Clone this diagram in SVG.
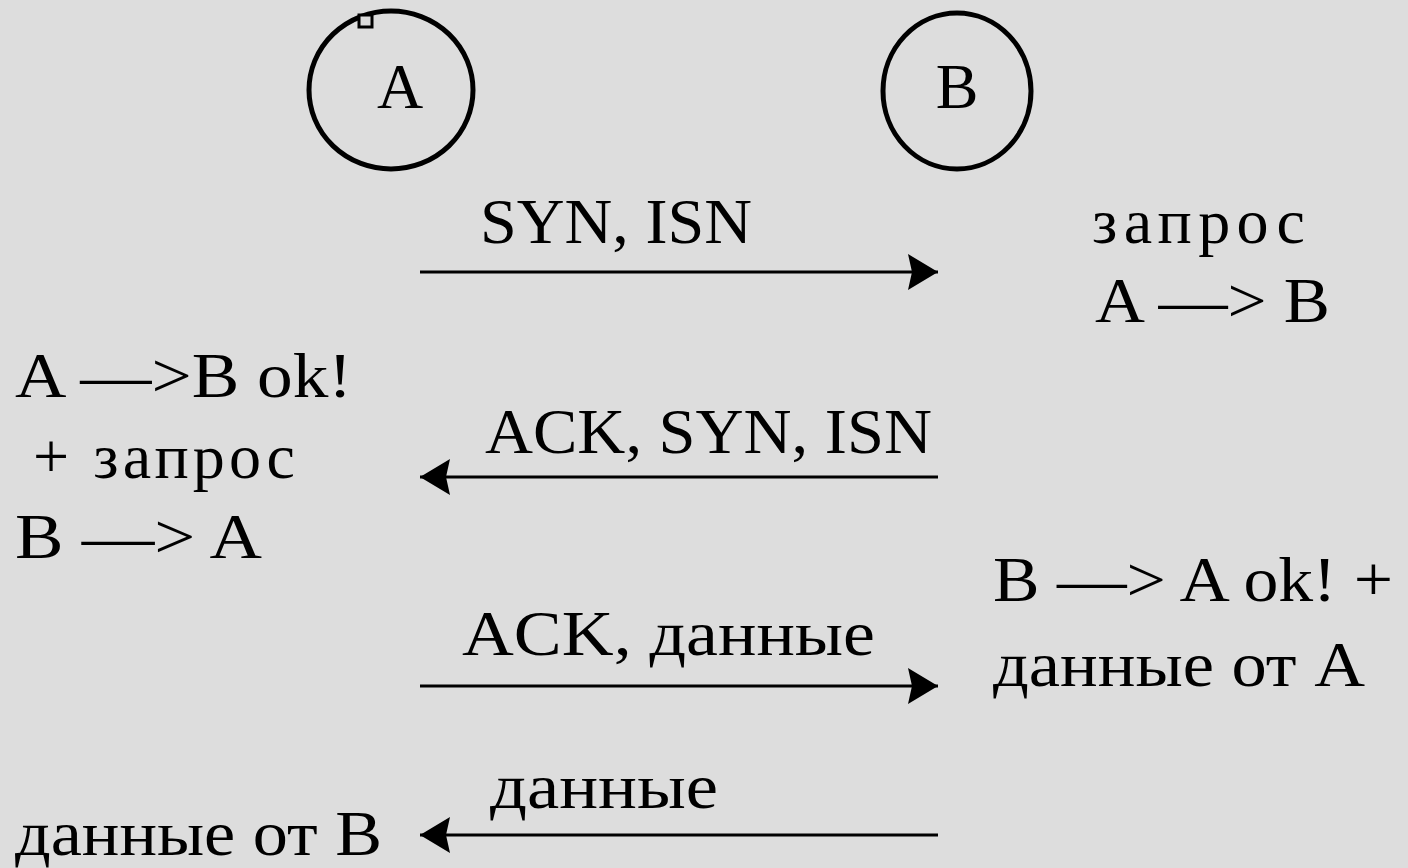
<svg xmlns="http://www.w3.org/2000/svg" width="1408" height="868" viewBox="0 0 1408 868">
<style>
.t{font-family:"Liberation Serif","Times New Roman",serif;font-size:64px;fill:#000}
.c{fill:none;stroke:#000;stroke-width:5}
.l{stroke:#000;stroke-width:3;fill:none}
</style>
<defs>
<marker id="ah" viewBox="0 0 30 36" refX="30" refY="18" markerWidth="30" markerHeight="36" markerUnits="userSpaceOnUse" orient="auto">
<path d="M0,0 L30,18 L0,36 L4,18 Z" fill="#000"/>
</marker>
</defs>
<rect width="1408" height="868" fill="#dddddd"/>
<g id="nodeA">
<ellipse class="c" cx="391" cy="90" rx="82" ry="79"/>
<rect x="359" y="15" width="13" height="12" fill="#dddddd" stroke="#000" stroke-width="3"/>
<text class="t" x="400" y="108" text-anchor="middle">A</text>
</g>
<g id="nodeB">
<ellipse class="c" cx="957" cy="91" rx="74" ry="78"/>
<text class="t" x="957" y="108" text-anchor="middle">B</text>
</g>
<g id="connectors">
<line class="l" x1="420" y1="272" x2="938" y2="272" marker-end="url(#ah)"/>
<line class="l" x1="938" y1="477" x2="420" y2="477" marker-end="url(#ah)"/>
<line class="l" x1="420" y1="686" x2="938" y2="686" marker-end="url(#ah)"/>
<line class="l" x1="938" y1="835" x2="420" y2="835" marker-end="url(#ah)"/>
</g>
<g id="labels">
<text class="t" x="480" y="243" textLength="272" lengthAdjust="spacingAndGlyphs">SYN, ISN</text>
<text class="t" x="1092" y="243" textLength="213" lengthAdjust="spacing">запрос</text>
<text class="t" x="1095" y="322" textLength="235" lengthAdjust="spacingAndGlyphs">A —&gt; B</text>
<text class="t" x="15" y="397" textLength="337" lengthAdjust="spacingAndGlyphs">A —&gt;B ok!</text>
<text class="t" x="33" y="478" textLength="262" lengthAdjust="spacing">+ запрос</text>
<text class="t" x="15" y="558" textLength="247" lengthAdjust="spacingAndGlyphs">B —&gt; A</text>
<text class="t" x="485" y="453" textLength="447" lengthAdjust="spacingAndGlyphs">ACK, SYN, ISN</text>
<text class="t" x="993" y="601" textLength="400" lengthAdjust="spacingAndGlyphs">B —&gt; A ok! +</text>
<text class="t" x="462" y="655" textLength="413" lengthAdjust="spacingAndGlyphs">ACK, данные</text>
<text class="t" x="993" y="686" textLength="372" lengthAdjust="spacingAndGlyphs">данные от A</text>
<text class="t" x="490" y="808" textLength="228" lengthAdjust="spacingAndGlyphs">данные</text>
<text class="t" x="15" y="855" textLength="367" lengthAdjust="spacingAndGlyphs">данные от B</text>
</g>
</svg>
